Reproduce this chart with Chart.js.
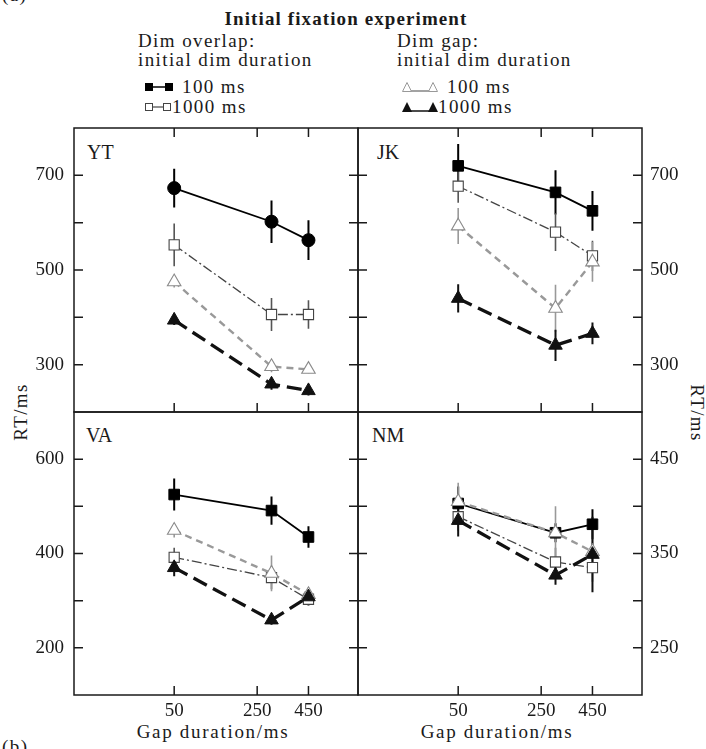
<!DOCTYPE html>
<html><head><meta charset="utf-8">
<script src="https://cdn.jsdelivr.net/npm/chart.js@4.4.1/dist/chart.umd.min.js"></script>
<style>
html,body{margin:0;padding:0;background:#fff;}
body{width:706px;height:749px;position:relative;overflow:hidden;font-family:"Liberation Serif","Times New Roman",serif;color:#1a1a1a;}
.t{position:absolute;white-space:nowrap;font-size:19px;letter-spacing:1.4px;line-height:1;transform:translateY(-50%);}
.c{transform:translate(-50%,-50%);}
.pl{position:absolute;white-space:nowrap;font-size:20px;line-height:1;transform:translateY(-50%);}
canvas{position:absolute;}
svg{position:absolute;overflow:visible;}
</style></head><body>

<div class="t" style="left:2px;top:-6px;">(a)</div>
<div class="t" style="left:2px;top:746px;">(b)</div>
<div class="t c" style="left:346px;top:18px;font-weight:bold;letter-spacing:1.1px;">Initial fixation experiment</div>
<div class="t" style="left:138px;top:40px;">Dim overlap:</div>
<div class="t" style="left:138px;top:59px;">initial dim duration</div>
<div class="t" style="left:182px;top:86px;">100 ms</div>
<div class="t" style="left:172px;top:106px;">1000 ms</div>
<div class="t" style="left:397px;top:40px;">Dim gap:</div>
<div class="t" style="left:397px;top:59px;">initial dim duration</div>
<div class="t" style="left:447px;top:86px;">100 ms</div>
<div class="t" style="left:438px;top:106px;">1000 ms</div>

<svg style="left:0;top:0;" width="706" height="120">
  <line x1="153" y1="87" x2="165" y2="87" stroke="#000" stroke-width="1.5"/>
  <rect x="145" y="83" width="8" height="8" fill="#000"/>
  <rect x="165" y="83" width="8" height="8" fill="#000"/>
  <line x1="152" y1="107" x2="163" y2="107" stroke="#444" stroke-width="1.2"/>
  <rect x="145.5" y="103.5" width="7" height="7" fill="#fff" stroke="#444" stroke-width="1"/>
  <rect x="163.5" y="103.5" width="7" height="7" fill="#fff" stroke="#444" stroke-width="1"/>
  <line x1="410" y1="91" x2="430" y2="91" stroke="#666" stroke-width="1.2"/>
  <polygon points="402.5,91.5 407,82.5 411.5,91.5" fill="#fff" stroke="#999" stroke-width="1"/>
  <polygon points="428.5,91.5 433,82.5 437.5,91.5" fill="#fff" stroke="#999" stroke-width="1"/>
  <line x1="410" y1="111" x2="430" y2="111" stroke="#111" stroke-width="1.5"/>
  <polygon points="402,112 407,102 412,112" fill="#111"/>
  <polygon points="428,112 433,102 438,112" fill="#111"/>
</svg>

<div class="pl" style="left:87px;top:152px;">YT</div>
<div class="pl" style="left:377px;top:152px;">JK</div>
<div class="pl" style="left:86px;top:435px;">VA</div>
<div class="pl" style="left:372px;top:435px;">NM</div>

<div class="t c" style="left:20px;top:412px;transform:translate(-50%,-50%) rotate(-90deg);">RT/ms</div>
<div class="t c" style="left:697px;top:413px;transform:translate(-50%,-50%) rotate(90deg);">RT/ms</div>
<div class="t c" style="left:213px;top:731px;letter-spacing:1.7px;">Gap duration/ms</div>
<div class="t c" style="left:497px;top:731px;letter-spacing:1.7px;">Gap duration/ms</div>

<canvas id="cTL" width="368" height="304" style="left:0;top:118px;"></canvas>
<canvas id="cTR" width="358" height="304" style="left:348px;top:118px;"></canvas>
<canvas id="cBL" width="368" height="347" style="left:0;top:402px;"></canvas>
<canvas id="cBR" width="358" height="347" style="left:348px;top:402px;"></canvas>

<script>
// ---------- data ----------
const gapTickLabels = [50, 250, 450];      // x-axis tick labels (ms)
const gapPoints = [50, 300, 450];          // gap durations where data are plotted (ms)
const seriesNames = ['Dim overlap 100 ms', 'Dim overlap 1000 ms', 'Dim gap 100 ms', 'Dim gap 1000 ms'];

// YT
const ytOverlap100 = [673, 602, 563];  const ytOverlap100Err = [41, 45, 42];
const ytOverlap1000 = [553, 406, 406]; const ytOverlap1000Err = [45, 35, 30];
const ytGap100 = [475, 296, 290];      const ytGap100Err = [12, 12, 8];
const ytGap1000 = [394, 259, 245];     const ytGap1000Err = [10, 12, 10];
// JK
const jkOverlap100 = [720, 664, 625];  const jkOverlap100Err = [46, 47, 42];
const jkOverlap1000 = [677, 580, 530]; const jkOverlap1000Err = [35, 40, 32];
const jkGap100 = [593, 419, 517];      const jkGap100Err = [38, 50, 42];
const jkGap1000 = [440, 341, 366];     const jkGap1000Err = [30, 33, 23];
// VA
const vaOverlap100 = [525, 491, 435];  const vaOverlap100Err = [34, 30, 23];
const vaOverlap1000 = [392, 349, 303]; const vaOverlap1000Err = [20, 25, 12];
const vaGap100 = [449, 358, 313];      const vaGap100Err = [15, 38, 15];
const vaGap1000 = [370, 259, 308];     const vaGap1000Err = [18, 10, 18];
// NM
const nmOverlap100 = [403, 372, 381];  const nmOverlap100Err = [18, 10, 16];
const nmOverlap1000 = [389, 341, 335]; const nmOverlap1000Err = [15, 15, 15];
const nmGap100 = [405, 372, 352];      const nmGap100Err = [20, 28, 15];
const nmGap1000 = [385, 327, 349];     const nmGap1000Err = [17, 10, 40];

// y-axis ranges and labelled ticks
const topYRange = [200, 800]; const topYStep = 100; const topYLabels = [300, 500, 700];
const vaYRange = [100, 700];  const vaYStep = 100;  const vaYLabels = [200, 400, 600];
const nmYRange = [200, 500];  const nmYStep = 50;   const nmYLabels = [250, 350, 450];

// x axis: square-root spaced gap axis (limits in sqrt(ms))
const xSqrtRange = [-3.48, 26.43];

// ---------- plugins ----------
const errorBars = {
  id: 'errorBars',
  beforeDatasetsDraw(chart) {
    const {ctx} = chart; const xs = chart.scales.x, ys = chart.scales.y;
    ctx.save();
    chart.data.datasets.forEach(ds => {
      if (!ds.err) return;
      ctx.strokeStyle = ds.errColor; ctx.lineWidth = ds.errWidth;
      ctx.beginPath();
      ds.data.forEach((p, i) => {
        const px = xs.getPixelForValue(p.x);
        ctx.moveTo(px, ys.getPixelForValue(p.y - ds.err[i]));
        ctx.lineTo(px, ys.getPixelForValue(p.y + ds.err[i]));
      });
      ctx.stroke();
    });
    ctx.restore();
  }
};
const frame = {
  id: 'frame',
  afterDraw(chart, args, opts) {
    const {ctx, chartArea: a} = chart; const xs = chart.scales.x, ys = chart.scales.y;
    const L = 9;
    ctx.save();
    ctx.strokeStyle = '#1a1a1a'; ctx.lineWidth = 1.5;
    ctx.strokeRect(a.left, a.top, a.right - a.left, a.bottom - a.top);
    ctx.beginPath();
    ys.ticks.forEach(t => {
      const py = ys.getPixelForValue(t.value);
      if (py <= a.top + 1 || py >= a.bottom - 1) return;
      ctx.moveTo(a.left, py); ctx.lineTo(a.left + L, py);
      ctx.moveTo(a.right, py); ctx.lineTo(a.right - L, py);
    });
    gapTickLabels.forEach(g => {
      const px = xs.getPixelForValue(Math.sqrt(g));
      if (opts.topTicks) { ctx.moveTo(px, a.top); ctx.lineTo(px, a.top + L); }
      ctx.moveTo(px, a.bottom); ctx.lineTo(px, a.bottom - L);
    });
    ctx.stroke();
    ctx.restore();
  }
};

// ---------- helpers ----------
const pts = vals => vals.map((v, i) => ({x: Math.sqrt(gapPoints[i]), y: v}));

function datasets(s1, e1, s2, e2, s3, e3, s4, e4, circle) {
  return [
    {label: seriesNames[0], data: pts(s1), err: e1, errColor: '#000', errWidth: 2,
     borderColor: '#000', borderWidth: 1.8, pointStyle: circle ? 'circle' : 'rect',
     pointRadius: circle ? 6.5 : 7.5, pointBackgroundColor: '#000', pointBorderColor: '#000', pointBorderWidth: 1, order: 4},
    {label: seriesNames[1], data: pts(s2), err: e2, errColor: '#555', errWidth: 1.6,
     borderColor: '#444', borderWidth: 1.3, borderDash: [10, 3, 2, 3], pointStyle: 'rect',
     pointRadius: 7.2, pointBackgroundColor: '#fff', pointBorderColor: '#444', pointBorderWidth: 1.1, order: 3},
    {label: seriesNames[2], data: pts(s3), err: e3, errColor: '#999', errWidth: 1.6,
     borderColor: '#999', borderWidth: 2.4, borderDash: [7, 5], pointStyle: 'triangle',
     pointRadius: 7.8, pointBackgroundColor: '#fff', pointBorderColor: '#8a8a8a', pointBorderWidth: 1.1, order: 2},
    {label: seriesNames[3], data: pts(s4), err: e4, errColor: '#111', errWidth: 2,
     borderColor: '#111', borderWidth: 3.3, borderDash: [15, 7], pointStyle: 'triangle',
     pointRadius: 7.8, pointBackgroundColor: '#111', pointBorderColor: '#111', pointBorderWidth: 1, order: 1}
  ];
}

function zeroPad(s) { s.paddingTop = 0; s.paddingBottom = 0; s.paddingLeft = 0; s.paddingRight = 0; }

function makeChart(id, dsets, o) {
  const font = {family: '"Liberation Serif","Times New Roman",serif', size: 19};
  new Chart(document.getElementById(id), {
    type: 'line',
    data: {datasets: dsets},
    options: {
      responsive: false, animation: false, events: [],
      layout: {padding: o.padding},
      plugins: {legend: {display: false}, tooltip: {enabled: false}, frame: {topTicks: o.topTicks}},
      elements: {line: {tension: 0, borderCapStyle: 'butt'}},
      scales: {
        x: {
          type: 'linear', display: o.showX, min: xSqrtRange[0], max: xSqrtRange[1],
          grid: {display: false, drawTicks: false}, border: {display: false},
          afterBuildTicks: s => { s.ticks = gapTickLabels.map(g => ({value: Math.sqrt(g)})); },
          ticks: {font, color: '#1a1a1a', padding: 5, maxRotation: 0, autoSkip: false,
                  callback: v => String(Math.round(v * v))},
          afterFit: s => { if (o.showX) s.height = 54; zeroPad(s); }
        },
        y: {
          type: 'linear', position: o.yPos, min: o.yRange[0], max: o.yRange[1],
          grid: {display: false, drawTicks: false}, border: {display: false},
          ticks: {font, color: '#1a1a1a', stepSize: o.yStep, padding: o.yPos === 'left' ? 10 : 8,
                  callback: v => (o.yLabels.includes(v) ? String(v) : '')},
          afterFit: s => { s.width = o.yPos === 'left' ? 74 : 64; zeroPad(s); }
        }
      }
    },
    plugins: [errorBars, frame]
  });
}

makeChart('cTL', datasets(ytOverlap100, ytOverlap100Err, ytOverlap1000, ytOverlap1000Err, ytGap100, ytGap100Err, ytGap1000, ytGap1000Err, true),
  {padding: {top: 10, bottom: 10, left: 0, right: 10}, yPos: 'left', yRange: topYRange, yStep: topYStep, yLabels: topYLabels, showX: false, topTicks: true});
makeChart('cTR', datasets(jkOverlap100, jkOverlap100Err, jkOverlap1000, jkOverlap1000Err, jkGap100, jkGap100Err, jkGap1000, jkGap1000Err, false),
  {padding: {top: 10, bottom: 10, left: 10, right: 0}, yPos: 'right', yRange: topYRange, yStep: topYStep, yLabels: topYLabels, showX: false, topTicks: true});
makeChart('cBL', datasets(vaOverlap100, vaOverlap100Err, vaOverlap1000, vaOverlap1000Err, vaGap100, vaGap100Err, vaGap1000, vaGap1000Err, false),
  {padding: {top: 10, bottom: 0, left: 0, right: 10}, yPos: 'left', yRange: vaYRange, yStep: vaYStep, yLabels: vaYLabels, showX: true, topTicks: false});
makeChart('cBR', datasets(nmOverlap100, nmOverlap100Err, nmOverlap1000, nmOverlap1000Err, nmGap100, nmGap100Err, nmGap1000, nmGap1000Err, false),
  {padding: {top: 10, bottom: 0, left: 10, right: 0}, yPos: 'right', yRange: nmYRange, yStep: nmYStep, yLabels: nmYLabels, showX: true, topTicks: false});
</script>
</body></html>
